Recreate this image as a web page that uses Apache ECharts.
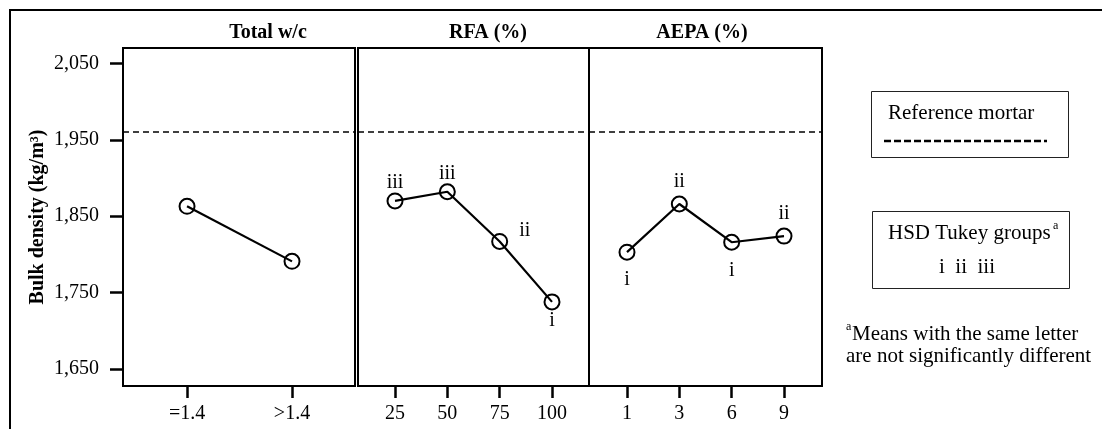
<!DOCTYPE html>
<html><head><meta charset="utf-8">
<script src="https://cdn.jsdelivr.net/npm/echarts@6/dist/echarts.min.js"></script>
<style>html,body{margin:0;padding:0;background:#fff}#c{width:1102px;height:429px}</style>
</head><body><div id="c"></div>
<script>
// ---- data ----
const yTicks = [1650, 1750, 1850, 1950, 2050];
const referenceMortar = 1960;
const wcCats = ['=1.4', '>1.4'];
const wcVals = [1863, 1791];
const rfaCats = ['25', '50', '75', '100'];
const rfaVals = [1870, 1882, 1817, 1738];
const rfaGroups = ['iii', 'iii', 'ii', 'i'];
const aepaCats = ['1', '3', '6', '9'];
const aepaVals = [1803, 1866, 1816, 1824];
const aepaGroups = ['i', 'ii', 'i', 'ii'];
const panelTitles = ['Total w/c', 'RFA (%)', 'AEPA (%)'];

// ---- label placement (layout, not data) ----
const rfaLabelPlace = [
  {position:'top', distance:0}, {position:'top', distance:0},
  {position:'right', distance:11, offset:[0,-11]}, {position:'bottom', distance:0}
];
const aepaLabelPlace = [
  {position:'bottom', distance:9}, {position:'top', distance:4},
  {position:'bottom', distance:10}, {position:'top', distance:4}
];

const FONT = '"Liberation Serif","Times New Roman",serif';
const chart = echarts.init(document.getElementById('c'), null, {renderer:'canvas'});

const grids = [
  {left:123, top:48, width:232, height:338},
  {left:358, top:48, width:231, height:338},
  {left:589, top:48, width:233, height:338}
];
const xRanges = [[-0.61, 1.6], [-0.707, 3.707], [-0.726, 3.726]];
const catsAll = [wcCats, rfaCats, aepaCats];

const xAxes = catsAll.map((cats, i) => ({
  type:'value', gridIndex:i, min:xRanges[i][0], max:xRanges[i][1],
  axisLine:{show:false, onZero:false}, splitLine:{show:false},
  axisTick:{show:true, length:12, lineStyle:{color:'#000', width:2.5}, customValues:cats.map((c,k)=>k)},
  axisLabel:{show:true, margin:18, fontFamily:FONT, fontSize:20, color:'#000',
    customValues:cats.map((c,k)=>k), formatter:(v)=>cats[Math.round(v)]}
}));
const yAxes = [0,1,2].map(i => ({
  type:'value', gridIndex:i, min:1628, max:2070,
  show: i === 0,
  name: i === 0 ? 'Bulk density (kg/m³)' : '',
  nameLocation:'middle', nameGap:75,
  nameTextStyle:{fontFamily:FONT, fontSize:20, fontWeight:'bold', color:'#000'},
  axisLine:{show:false, onZero:false}, splitLine:{show:false},
  axisTick:{show:true, length:13, lineStyle:{color:'#000', width:2.5}, customValues:yTicks},
  axisLabel:{show:true, margin:24, fontFamily:FONT, fontSize:20, color:'#000', customValues:yTicks,
    formatter:(v)=>v.toLocaleString('en-US')}
}));

function makeSeries(i, vals, groups, places) {
  return {
    type:'line', xAxisIndex:i, yAxisIndex:i,
    data: vals.map((v,k) => {
      const item = {value:[k, v]};
      if (groups) {
        item.label = Object.assign({show:true, formatter:groups[k], fontFamily:FONT, fontSize:20, color:'#000'}, places[k]);
      }
      return item;
    }),
    symbol:'circle', symbolSize:15,
    itemStyle:{color:'rgba(0,0,0,0)', borderColor:'#000', borderWidth:2},
    lineStyle:{color:'#000', width:2.2},
    z:3,
    markLine:{silent:true, symbol:'none', label:{show:false},
      lineStyle:{color:'#000', type:[6,4], width:1.6},
      data:[{yAxis:referenceMortar}]}
  };
}

const titleX = [268, 488, 702];

const option = {
  animation:false,
  backgroundColor:'#fff',
  grid: grids.map(g => Object.assign({show:true, borderColor:'#000', borderWidth:2, backgroundColor:'transparent'}, g)),
  xAxis: xAxes,
  yAxis: yAxes,
  series: [
    makeSeries(0, wcVals, null, null),
    makeSeries(1, rfaVals, rfaGroups, rfaLabelPlace),
    makeSeries(2, aepaVals, aepaGroups, aepaLabelPlace)
  ],
  graphic: [
    {type:'rect', shape:{x:10, y:10, width:1200, height:500}, style:{fill:'none', stroke:'#000', lineWidth:2}, silent:true},
    ...panelTitles.map((t,i) => ({type:'text', x:titleX[i], y:33,
      style:{text:t, font:'bold 20px ' + FONT, fill:'#000', textAlign:'center', textVerticalAlign:'middle'}})),
    // legend box 1
    {type:'rect', shape:{x:871.5, y:91.5, width:197, height:66}, style:{fill:'none', stroke:'#222', lineWidth:1}},
    {type:'text', x:888, y:113, style:{text:'Reference mortar', font:'21px ' + FONT, fill:'#000', textVerticalAlign:'middle'}},
    {type:'line', shape:{x1:884, y1:141, x2:1047, y2:141}, style:{stroke:'#000', lineWidth:2.5, lineDash:[7,3]}},
    // legend box 2
    {type:'rect', shape:{x:872.5, y:211.5, width:197, height:77}, style:{fill:'none', stroke:'#222', lineWidth:1}},
    {type:'text', x:888, y:233, style:{text:'HSD Tukey groups', font:'21px ' + FONT, fill:'#000', textVerticalAlign:'middle'}},
    {type:'text', x:1053, y:226, style:{text:'a', font:'12px ' + FONT, fill:'#000', textVerticalAlign:'middle'}},
    {type:'text', x:967, y:267, style:{text:'i  ii  iii', font:'21px ' + FONT, fill:'#000', textAlign:'center', textVerticalAlign:'middle'}},
    // footnote
    {type:'text', x:846, y:327, style:{text:'a', font:'12px ' + FONT, fill:'#000', textVerticalAlign:'middle'}},
    {type:'text', x:852, y:334, style:{text:'Means with the same letter', font:'21px ' + FONT, fill:'#000', textVerticalAlign:'middle'}},
    {type:'text', x:846, y:356, style:{text:'are not significantly different', font:'21px ' + FONT, fill:'#000', textVerticalAlign:'middle'}}
  ]
};
chart.setOption(option);
</script></body></html>
